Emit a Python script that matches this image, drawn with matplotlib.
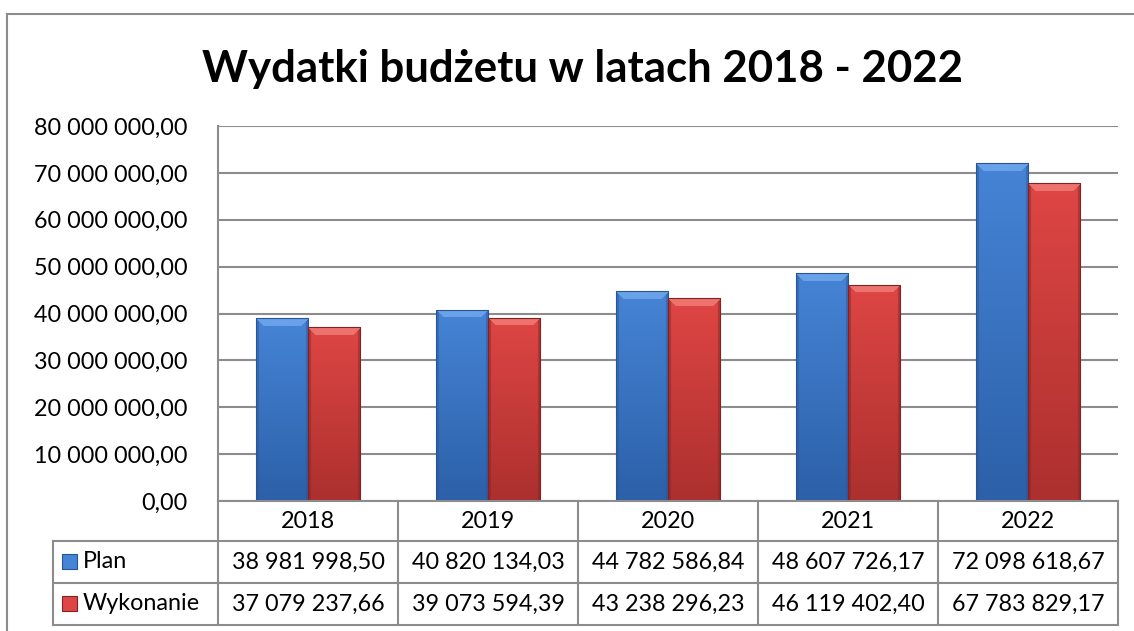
import numpy as np
import matplotlib
matplotlib.use("Agg")
import matplotlib.pyplot as plt
from matplotlib.patches import Rectangle
from matplotlib.lines import Line2D

# ---------------- data ----------------
title = "Wydatki budżetu w latach 2018 - 2022"
categories = ["2018", "2019", "2020", "2021", "2022"]
series_names = ["Plan", "Wykonanie"]
plan = [38981998.50, 40820134.03, 44782586.84, 48607726.17, 72098618.67]
wykonanie = [37079237.66, 39073594.39, 43238296.23, 46119402.40, 67783829.17]
y_ticks = [0, 10e6, 20e6, 30e6, 40e6, 50e6, 60e6, 70e6, 80e6]

FONT = ["Lato", "DejaVu Sans"]
plt.rcParams["font.family"] = FONT

W, H = 1134, 631
fig = plt.figure(figsize=(W / 100, H / 100), dpi=100)


def fx(px):
    return px / W


def fy(py):
    return 1 - py / H


def fmt(v):
    s = f"{v:,.2f}"
    return s.replace(",", " ").replace(".", ",")


# plot area
L, R, T, B = 218, 1118, 126, 501
ax = fig.add_axes([fx(L), fy(B), fx(R) - fx(L), fy(T) - fy(B)])
ax.set_xlim(-0.5, len(categories) - 0.5)
ax.set_ylim(0, 80e6)
for s in ["top", "right", "bottom"]:
    ax.spines[s].set_visible(False)
ax.spines["left"].set_color("#8c8c8c")
ax.spines["left"].set_linewidth(1.5)
ax.set_yticks(y_ticks)
ax.set_yticklabels([fmt(v) for v in y_ticks], fontsize=16.8)
ax.tick_params(axis="y", length=0, pad=22)
ax.set_xticks([])
ax.yaxis.grid(True, color="#8c8c8c", linewidth=1.5)
ax.set_axisbelow(True)

grad_cols = {
    "Plan": dict(top=(70, 132, 214), bot=(44, 96, 168), bevel=(105, 162, 232),
                 side=(40, 85, 150)),
    "Wykonanie": dict(top=(222, 70, 68), bot=(172, 48, 46), bevel=(238, 115, 110),
                      side=(130, 35, 35)),
}

bw = 0.29
px_per_unit = (B - T) / 80e6
xs = np.arange(len(categories))
for k, (name, vals) in enumerate(zip(series_names, [plan, wykonanie])):
    offs = (-bw / 2) if k == 0 else (bw / 2)
    bars = ax.bar(xs + offs, vals, width=bw, color="none", edgecolor="none", zorder=3)
    c = grad_cols[name]
    top = np.array(c["top"]) / 255
    bot = np.array(c["bot"]) / 255
    bev = np.array(c["bevel"]) / 255
    side = np.array(c["side"]) / 255
    for p, v in zip(bars.patches, vals):
        hp = max(int(round(v * px_per_unit)), 2)
        wp = 52
        img = np.zeros((hp, wp, 3))
        t = np.linspace(0, 1, hp)[:, None, None]
        img[:] = top * (1 - t) + bot * t
        ii, jj = np.mgrid[0:hp, 0:wp]
        b = 8
        topmask = (ii < b) & (ii <= jj) & (ii <= wp - 1 - jj)
        img[topmask] = bev
        sidemask = ((jj < 3) | (jj > wp - 4)) & ~topmask
        img[sidemask] = img[sidemask] * 0.55 + side * 0.45
        img[0, :] = img[0, :] * 0.6 + side * 0.4
        x0 = p.get_x()
        im = ax.imshow(img, extent=[x0, x0 + bw, 0, v], aspect="auto",
                       interpolation="bilinear", zorder=3, origin="upper")
        im.set_clip_path(p)
        ax.add_patch(Rectangle((x0, 0), bw, v, fill=False, edgecolor=tuple(side),
                               linewidth=0.8, zorder=4))
ax.set_xlim(-0.5, len(categories) - 0.5)
ax.set_ylim(0, 80e6)

# title
fig.text(fx(583), fy(69), title, ha="center", va="center", fontsize=31.5,
         fontweight="bold")

# outer chart border
lc = "#8c8c8c"
fig.add_artist(Line2D([fx(7), fx(1133)], [fy(14), fy(14)], color=lc, lw=1.5))
fig.add_artist(Line2D([fx(7), fx(7)], [fy(14), fy(631)], color=lc, lw=1.5))

# data table
col_edges = [L + i * (R - L) / len(categories) for i in range(len(categories) + 1)]
row_y = [501, 541, 583, 625]
leg_left = 53
tl = 1.5
fig.add_artist(Line2D([fx(L), fx(R)], [fy(row_y[0]), fy(row_y[0])], color=lc, lw=tl))
for yy in row_y[1:]:
    fig.add_artist(Line2D([fx(leg_left), fx(R)], [fy(yy), fy(yy)], color=lc, lw=tl))
for xx in col_edges:
    fig.add_artist(Line2D([fx(xx), fx(xx)], [fy(row_y[0]), fy(row_y[-1])], color=lc, lw=tl))
fig.add_artist(Line2D([fx(leg_left), fx(leg_left)], [fy(row_y[1]), fy(row_y[-1])],
                      color=lc, lw=tl))

fs = 16.8
for i, cat in enumerate(categories):
    cx = (col_edges[i] + col_edges[i + 1]) / 2
    fig.text(fx(cx), fy((row_y[0] + row_y[1]) / 2), cat, ha="center", va="center",
             fontsize=fs)
for r, (name, vals) in enumerate(zip(series_names, [plan, wykonanie])):
    cy = (row_y[r + 1] + row_y[r + 2]) / 2
    c = grad_cols[name]
    fig.add_artist(Rectangle((fx(62), fy(cy + 7)), fx(15), 15 / H,
                             facecolor=tuple(np.array(c["top"]) / 255),
                             edgecolor=tuple(np.array(c["side"]) / 255), lw=0.8))
    fig.text(fx(83), fy(cy), name, ha="left", va="center", fontsize=fs)
    for i, v in enumerate(vals):
        cx = (col_edges[i] + col_edges[i + 1]) / 2
        fig.text(fx(cx), fy(cy), fmt(v), ha="center", va="center", fontsize=fs)

fig.savefig("out.png", dpi=100)
